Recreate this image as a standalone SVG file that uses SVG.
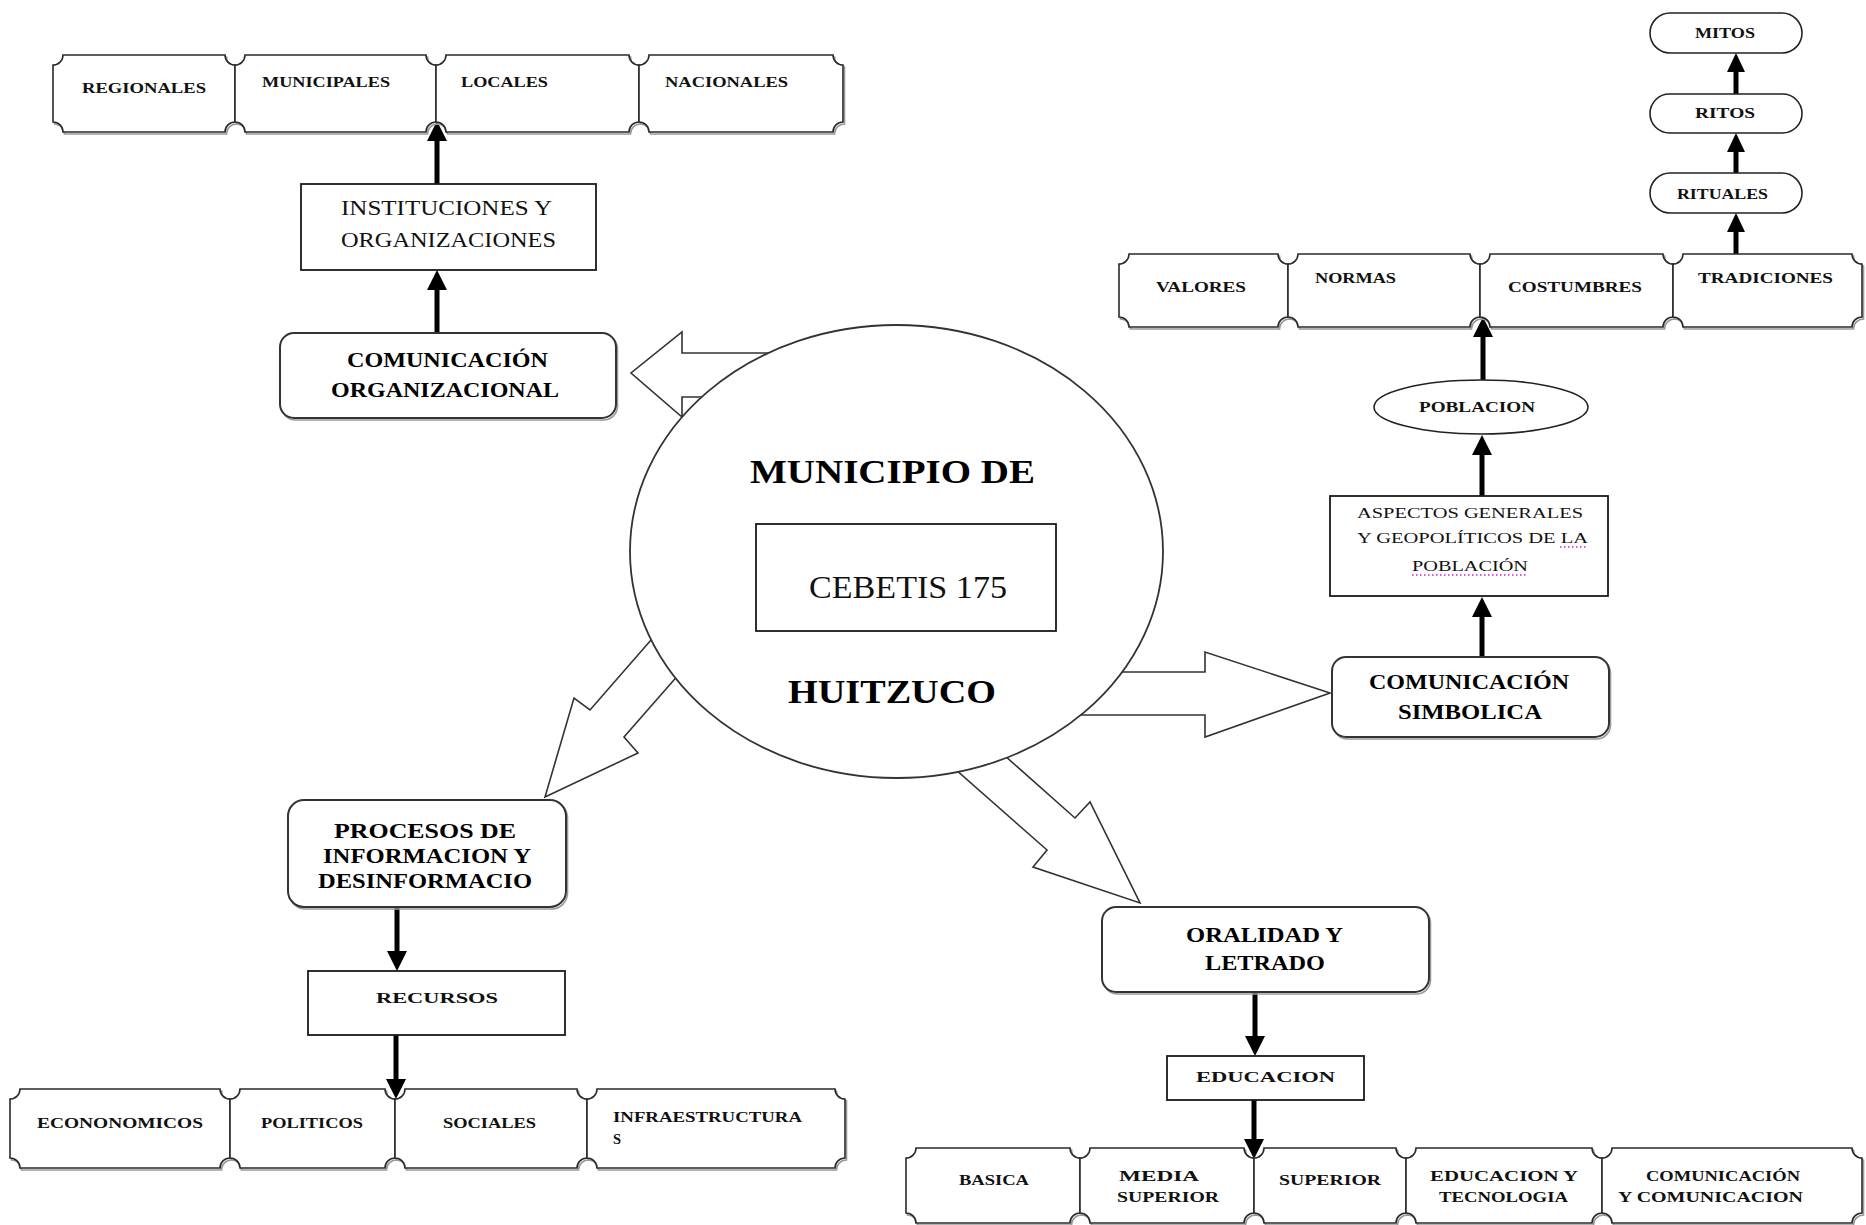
<svg xmlns="http://www.w3.org/2000/svg" width="1866" height="1225" viewBox="0 0 1866 1225">
<style>
.tk{fill:#fff;stroke:#2a2a2a;stroke-width:1.6}
.sh{fill:none;stroke:#9a9a9a;stroke-width:1.6}
.bx{fill:#fff;stroke:#1a1a1a;stroke-width:1.8}
.rb{fill:#fff;stroke:#333;stroke-width:2}
.sm{font-family:"Liberation Serif",serif;font-weight:bold;font-size:14.5px;fill:#111}
.md{font-family:"Liberation Serif",serif;font-size:15.5px;fill:#111}
.nm{font-family:"Liberation Serif",serif;font-size:21px;fill:#111}
.bd{font-family:"Liberation Serif",serif;font-weight:bold;font-size:21px;fill:#000}
.big{font-family:"Liberation Serif",serif;font-weight:bold;font-size:34px;fill:#000}
.ln{stroke:#000;stroke-width:5;fill:none}
.ah{fill:#000}
.blk{fill:#fff;stroke:#333;stroke-width:1.6;stroke-linejoin:miter}
.sp{stroke:#d020d0;stroke-width:1.5;stroke-dasharray:1.5 2.5}
</style>

<g id="connectors">
  <polygon class="blk" points="800,353 682,353 682,332 631,373 682,417 682,397 800,397"/>
  <polygon class="blk" points="1080,672 1205,672 1205,652 1330,693 1205,737 1205,715 1080,715"/>
  <polygon class="blk" points="685,601 590,710 574,698 545,797 638,753 624,737 709,640"/>
  <polygon class="blk" points="930,747 1047,850 1033,867 1140,903 1090,802 1075,818 978,732"/>
  <line class="ln" x1="437" y1="333" x2="437" y2="285"/><polygon class="ah" points="437,270 427,290 447,290"/>
  <line class="ln" x1="437" y1="184" x2="437" y2="138"/><polygon class="ah" points="437,121 427,141 447,141"/>
  <line class="ln" x1="1482" y1="657" x2="1482" y2="612"/><polygon class="ah" points="1482,597 1472,617 1492,617"/>
  <line class="ln" x1="1482" y1="496" x2="1482" y2="451"/><polygon class="ah" points="1482,435 1472,455 1492,455"/>
  <line class="ln" x1="1483" y1="380" x2="1483" y2="334"/><polygon class="ah" points="1483,317 1473,337 1493,337"/>
  <line class="ln" x1="1736" y1="254" x2="1736" y2="229"/><polygon class="ah" points="1736,213 1727,232 1745,232"/>
  <line class="ln" x1="1736" y1="173" x2="1736" y2="149"/><polygon class="ah" points="1736,133 1727,152 1745,152"/>
  <line class="ln" x1="1736" y1="94" x2="1736" y2="69"/><polygon class="ah" points="1736,53 1727,72 1745,72"/>
  <line class="ln" x1="397" y1="907" x2="397" y2="955"/><polygon class="ah" points="397,971 387,951 407,951"/>
  <line class="ln" x1="396" y1="1035" x2="396" y2="1082"/><polygon class="ah" points="396,1099 386,1079 406,1079"/>
  <line class="ln" x1="1255" y1="992" x2="1255" y2="1040"/><polygon class="ah" points="1255,1056 1245,1036 1265,1036"/>
  <line class="ln" x1="1254" y1="1100" x2="1254" y2="1142"/><polygon class="ah" points="1254,1159 1244,1139 1264,1139"/>
</g>

<g id="municipio">
  <ellipse cx="896.5" cy="551.5" rx="266.5" ry="226.5" fill="#fff" stroke="#333" stroke-width="1.8"/>
  <text class="big" x="750" y="483" textLength="285" lengthAdjust="spacingAndGlyphs">MUNICIPIO DE</text>
  <text class="big" x="788" y="703" textLength="208" lengthAdjust="spacingAndGlyphs">HUITZUCO</text>
</g>
<g id="cebetis">
  <rect class="bx" x="756" y="524" width="300" height="107"/>
  <text x="809" y="598" font-family="Liberation Serif, serif" font-size="32" fill="#111" textLength="198" lengthAdjust="spacingAndGlyphs">CEBETIS 175</text>
</g>

<g id="com-organizacional">
  <rect class="sh" x="281.5" y="335" width="336" height="85" rx="14"/>
  <rect class="rb" x="280" y="333" width="336" height="85" rx="14"/>
  <text class="bd" x="347" y="367" textLength="201" lengthAdjust="spacingAndGlyphs">COMUNICACIÓN</text>
  <text class="bd" x="331" y="397" textLength="228" lengthAdjust="spacingAndGlyphs">ORGANIZACIONAL</text>
</g>
<g id="instituciones">
  <rect class="bx" x="301" y="184" width="295" height="86"/>
  <text class="nm" x="341" y="215" textLength="211" lengthAdjust="spacingAndGlyphs">INSTITUCIONES Y</text>
  <text class="nm" x="341" y="247" textLength="215" lengthAdjust="spacingAndGlyphs">ORGANIZACIONES</text>
</g>
<g id="regionales">
  <path class="sh" transform="translate(1.5,2)" d="M63 55 H225 A10 10 0 0 0 235 65 V122 A10 10 0 0 0 225 132 H63 A10 10 0 0 0 53 122 V65 A10 10 0 0 0 63 55 Z"/>
  <path class="tk" d="M63 55 H225 A10 10 0 0 0 235 65 V122 A10 10 0 0 0 225 132 H63 A10 10 0 0 0 53 122 V65 A10 10 0 0 0 63 55 Z"/>
  <text class="sm" x="82" y="93" textLength="124" lengthAdjust="spacingAndGlyphs">REGIONALES</text>
</g>
<g id="municipales">
  <path class="sh" transform="translate(1.5,2)" d="M245 55 H426 A10 10 0 0 0 436 65 V122 A10 10 0 0 0 426 132 H245 A10 10 0 0 0 235 122 V65 A10 10 0 0 0 245 55 Z"/>
  <path class="tk" d="M245 55 H426 A10 10 0 0 0 436 65 V122 A10 10 0 0 0 426 132 H245 A10 10 0 0 0 235 122 V65 A10 10 0 0 0 245 55 Z"/>
  <text class="sm" x="262" y="87" textLength="128" lengthAdjust="spacingAndGlyphs">MUNICIPALES</text>
</g>
<g id="locales">
  <path class="sh" transform="translate(1.5,2)" d="M446 55 H629 A10 10 0 0 0 639 65 V122 A10 10 0 0 0 629 132 H446 A10 10 0 0 0 436 122 V65 A10 10 0 0 0 446 55 Z"/>
  <path class="tk" d="M446 55 H629 A10 10 0 0 0 639 65 V122 A10 10 0 0 0 629 132 H446 A10 10 0 0 0 436 122 V65 A10 10 0 0 0 446 55 Z"/>
  <text class="sm" x="461" y="87" textLength="87" lengthAdjust="spacingAndGlyphs">LOCALES</text>
</g>
<g id="nacionales">
  <path class="sh" transform="translate(1.5,2)" d="M649 55 H833 A10 10 0 0 0 843 65 V122 A10 10 0 0 0 833 132 H649 A10 10 0 0 0 639 122 V65 A10 10 0 0 0 649 55 Z"/>
  <path class="tk" d="M649 55 H833 A10 10 0 0 0 843 65 V122 A10 10 0 0 0 833 132 H649 A10 10 0 0 0 639 122 V65 A10 10 0 0 0 649 55 Z"/>
  <text class="sm" x="665" y="87" textLength="123" lengthAdjust="spacingAndGlyphs">NACIONALES</text>
</g>

<g id="com-simbolica">
  <rect class="sh" x="1333.5" y="659" width="277" height="80" rx="14"/>
  <rect class="rb" x="1332" y="657" width="277" height="80" rx="14"/>
  <text class="bd" x="1369" y="689" textLength="200" lengthAdjust="spacingAndGlyphs">COMUNICACIÓN</text>
  <text class="bd" x="1398" y="719" textLength="144" lengthAdjust="spacingAndGlyphs">SIMBOLICA</text>
</g>
<g id="aspectos">
  <rect class="bx" x="1330" y="496" width="278" height="100"/>
  <text class="md" x="1357" y="518" textLength="226" lengthAdjust="spacingAndGlyphs">ASPECTOS GENERALES</text>
  <text class="md" x="1357" y="543" textLength="231" lengthAdjust="spacingAndGlyphs">Y GEOPOLÍTICOS DE LA</text>
  <text class="md" x="1412" y="571" textLength="116" lengthAdjust="spacingAndGlyphs">POBLACIÓN</text>
  <line class="sp" x1="1560" y1="547" x2="1588" y2="547"/>
  <line class="sp" x1="1412" y1="575" x2="1528" y2="575"/>
</g>
<g id="poblacion">
  <ellipse cx="1481" cy="407" rx="107" ry="27" fill="#fff" stroke="#222" stroke-width="1.6"/>
  <text class="sm" x="1419" y="412" textLength="116" lengthAdjust="spacingAndGlyphs">POBLACION</text>
</g>
<g id="valores">
  <path class="sh" transform="translate(1.5,2)" d="M1129 254 H1278 A10 10 0 0 0 1288 264 V317 A10 10 0 0 0 1278 327 H1129 A10 10 0 0 0 1119 317 V264 A10 10 0 0 0 1129 254 Z"/>
  <path class="tk" d="M1129 254 H1278 A10 10 0 0 0 1288 264 V317 A10 10 0 0 0 1278 327 H1129 A10 10 0 0 0 1119 317 V264 A10 10 0 0 0 1129 254 Z"/>
  <text class="sm" x="1156" y="292" textLength="90" lengthAdjust="spacingAndGlyphs">VALORES</text>
</g>
<g id="normas">
  <path class="sh" transform="translate(1.5,2)" d="M1298 254 H1470 A10 10 0 0 0 1480 264 V317 A10 10 0 0 0 1470 327 H1298 A10 10 0 0 0 1288 317 V264 A10 10 0 0 0 1298 254 Z"/>
  <path class="tk" d="M1298 254 H1470 A10 10 0 0 0 1480 264 V317 A10 10 0 0 0 1470 327 H1298 A10 10 0 0 0 1288 317 V264 A10 10 0 0 0 1298 254 Z"/>
  <text class="sm" x="1315" y="283" textLength="81" lengthAdjust="spacingAndGlyphs">NORMAS</text>
</g>
<g id="costumbres">
  <path class="sh" transform="translate(1.5,2)" d="M1490 254 H1663 A10 10 0 0 0 1673 264 V317 A10 10 0 0 0 1663 327 H1490 A10 10 0 0 0 1480 317 V264 A10 10 0 0 0 1490 254 Z"/>
  <path class="tk" d="M1490 254 H1663 A10 10 0 0 0 1673 264 V317 A10 10 0 0 0 1663 327 H1490 A10 10 0 0 0 1480 317 V264 A10 10 0 0 0 1490 254 Z"/>
  <text class="sm" x="1508" y="292" textLength="134" lengthAdjust="spacingAndGlyphs">COSTUMBRES</text>
</g>
<g id="tradiciones">
  <path class="sh" transform="translate(1.5,2)" d="M1683 254 H1852 A10 10 0 0 0 1862 264 V317 A10 10 0 0 0 1852 327 H1683 A10 10 0 0 0 1673 317 V264 A10 10 0 0 0 1683 254 Z"/>
  <path class="tk" d="M1683 254 H1852 A10 10 0 0 0 1862 264 V317 A10 10 0 0 0 1852 327 H1683 A10 10 0 0 0 1673 317 V264 A10 10 0 0 0 1683 254 Z"/>
  <text class="sm" x="1698" y="283" textLength="135" lengthAdjust="spacingAndGlyphs">TRADICIONES</text>
</g>
<g id="rituales">
  <rect x="1650" y="173" width="152" height="40" rx="20" fill="#fff" stroke="#222" stroke-width="1.6"/>
  <text class="sm" x="1677" y="199" textLength="91" lengthAdjust="spacingAndGlyphs">RITUALES</text>
</g>
<g id="ritos">
  <rect x="1650" y="94" width="152" height="39" rx="19.5" fill="#fff" stroke="#222" stroke-width="1.6"/>
  <text class="sm" x="1695" y="118" textLength="60" lengthAdjust="spacingAndGlyphs">RITOS</text>
</g>
<g id="mitos">
  <rect x="1650" y="13" width="152" height="40" rx="20" fill="#fff" stroke="#222" stroke-width="1.6"/>
  <text class="sm" x="1695" y="38" textLength="60" lengthAdjust="spacingAndGlyphs">MITOS</text>
</g>

<g id="procesos">
  <rect class="sh" x="289.5" y="802" width="278" height="107" rx="16"/>
  <rect class="rb" x="288" y="800" width="278" height="107" rx="16"/>
  <text class="bd" x="334" y="838" textLength="182" lengthAdjust="spacingAndGlyphs">PROCESOS DE</text>
  <text class="bd" x="323" y="863" textLength="208" lengthAdjust="spacingAndGlyphs">INFORMACION Y</text>
  <text class="bd" x="318" y="888" textLength="214" lengthAdjust="spacingAndGlyphs">DESINFORMACIO</text>
</g>
<g id="recursos">
  <rect class="bx" x="308" y="971" width="257" height="64"/>
  <text class="sm" x="376" y="1003" textLength="122" lengthAdjust="spacingAndGlyphs">RECURSOS</text>
</g>
<g id="economicos">
  <path class="sh" transform="translate(1.5,2)" d="M20 1089 H220 A10 10 0 0 0 230 1099 V1158 A10 10 0 0 0 220 1168 H20 A10 10 0 0 0 10 1158 V1099 A10 10 0 0 0 20 1089 Z"/>
  <path class="tk" d="M20 1089 H220 A10 10 0 0 0 230 1099 V1158 A10 10 0 0 0 220 1168 H20 A10 10 0 0 0 10 1158 V1099 A10 10 0 0 0 20 1089 Z"/>
  <text class="sm" x="37" y="1128" textLength="166" lengthAdjust="spacingAndGlyphs">ECONONOMICOS</text>
</g>
<g id="politicos">
  <path class="sh" transform="translate(1.5,2)" d="M240 1089 H385 A10 10 0 0 0 395 1099 V1158 A10 10 0 0 0 385 1168 H240 A10 10 0 0 0 230 1158 V1099 A10 10 0 0 0 240 1089 Z"/>
  <path class="tk" d="M240 1089 H385 A10 10 0 0 0 395 1099 V1158 A10 10 0 0 0 385 1168 H240 A10 10 0 0 0 230 1158 V1099 A10 10 0 0 0 240 1089 Z"/>
  <text class="sm" x="261" y="1128" textLength="102" lengthAdjust="spacingAndGlyphs">POLITICOS</text>
</g>
<g id="sociales">
  <path class="sh" transform="translate(1.5,2)" d="M405 1089 H577 A10 10 0 0 0 587 1099 V1158 A10 10 0 0 0 577 1168 H405 A10 10 0 0 0 395 1158 V1099 A10 10 0 0 0 405 1089 Z"/>
  <path class="tk" d="M405 1089 H577 A10 10 0 0 0 587 1099 V1158 A10 10 0 0 0 577 1168 H405 A10 10 0 0 0 395 1158 V1099 A10 10 0 0 0 405 1089 Z"/>
  <text class="sm" x="443" y="1128" textLength="93" lengthAdjust="spacingAndGlyphs">SOCIALES</text>
</g>
<g id="infraestructuras">
  <path class="sh" transform="translate(1.5,2)" d="M597 1089 H835 A10 10 0 0 0 845 1099 V1158 A10 10 0 0 0 835 1168 H597 A10 10 0 0 0 587 1158 V1099 A10 10 0 0 0 597 1089 Z"/>
  <path class="tk" d="M597 1089 H835 A10 10 0 0 0 845 1099 V1158 A10 10 0 0 0 835 1168 H597 A10 10 0 0 0 587 1158 V1099 A10 10 0 0 0 597 1089 Z"/>
  <text class="sm" x="613" y="1122" textLength="189" lengthAdjust="spacingAndGlyphs">INFRAESTRUCTURA</text>
  <text class="sm" x="613" y="1144">S</text>
</g>

<g id="oralidad">
  <rect class="sh" x="1103.5" y="909" width="327" height="85" rx="14"/>
  <rect class="rb" x="1102" y="907" width="327" height="85" rx="14"/>
  <text class="bd" x="1186" y="942" textLength="157" lengthAdjust="spacingAndGlyphs">ORALIDAD Y</text>
  <text class="bd" x="1205" y="970" textLength="120" lengthAdjust="spacingAndGlyphs">LETRADO</text>
</g>
<g id="educacion">
  <rect class="bx" x="1167" y="1056" width="197" height="44"/>
  <text class="sm" x="1196" y="1082" textLength="139" lengthAdjust="spacingAndGlyphs">EDUCACION</text>
</g>
<g id="basica">
  <path class="sh" transform="translate(1.5,2)" d="M916 1148 H1070 A10 10 0 0 0 1080 1158 V1213 A10 10 0 0 0 1070 1223 H916 A10 10 0 0 0 906 1213 V1158 A10 10 0 0 0 916 1148 Z"/>
  <path class="tk" d="M916 1148 H1070 A10 10 0 0 0 1080 1158 V1213 A10 10 0 0 0 1070 1223 H916 A10 10 0 0 0 906 1213 V1158 A10 10 0 0 0 916 1148 Z"/>
  <text class="sm" x="959" y="1185" textLength="70" lengthAdjust="spacingAndGlyphs">BASICA</text>
</g>
<g id="media-superior">
  <path class="sh" transform="translate(1.5,2)" d="M1090 1148 H1244 A10 10 0 0 0 1254 1158 V1213 A10 10 0 0 0 1244 1223 H1090 A10 10 0 0 0 1080 1213 V1158 A10 10 0 0 0 1090 1148 Z"/>
  <path class="tk" d="M1090 1148 H1244 A10 10 0 0 0 1254 1158 V1213 A10 10 0 0 0 1244 1223 H1090 A10 10 0 0 0 1080 1213 V1158 A10 10 0 0 0 1090 1148 Z"/>
  <text class="sm" x="1119" y="1181" textLength="80" lengthAdjust="spacingAndGlyphs">MEDIA</text>
  <text class="sm" x="1117" y="1202" textLength="102" lengthAdjust="spacingAndGlyphs">SUPERIOR</text>
</g>
<g id="superior">
  <path class="sh" transform="translate(1.5,2)" d="M1264 1148 H1396 A10 10 0 0 0 1406 1158 V1213 A10 10 0 0 0 1396 1223 H1264 A10 10 0 0 0 1254 1213 V1158 A10 10 0 0 0 1264 1148 Z"/>
  <path class="tk" d="M1264 1148 H1396 A10 10 0 0 0 1406 1158 V1213 A10 10 0 0 0 1396 1223 H1264 A10 10 0 0 0 1254 1213 V1158 A10 10 0 0 0 1264 1148 Z"/>
  <text class="sm" x="1279" y="1185" textLength="102" lengthAdjust="spacingAndGlyphs">SUPERIOR</text>
</g>
<g id="educacion-tecnologia">
  <path class="sh" transform="translate(1.5,2)" d="M1416 1148 H1592 A10 10 0 0 0 1602 1158 V1213 A10 10 0 0 0 1592 1223 H1416 A10 10 0 0 0 1406 1213 V1158 A10 10 0 0 0 1416 1148 Z"/>
  <path class="tk" d="M1416 1148 H1592 A10 10 0 0 0 1602 1158 V1213 A10 10 0 0 0 1592 1223 H1416 A10 10 0 0 0 1406 1213 V1158 A10 10 0 0 0 1416 1148 Z"/>
  <text class="sm" x="1430" y="1181" textLength="148" lengthAdjust="spacingAndGlyphs">EDUCACION Y</text>
  <text class="sm" x="1439" y="1202" textLength="129" lengthAdjust="spacingAndGlyphs">TECNOLOGIA</text>
</g>
<g id="comunicacion-comunicacion">
  <path class="sh" transform="translate(1.5,2)" d="M1612 1148 H1852 A10 10 0 0 0 1862 1158 V1213 A10 10 0 0 0 1852 1223 H1612 A10 10 0 0 0 1602 1213 V1158 A10 10 0 0 0 1612 1148 Z"/>
  <path class="tk" d="M1612 1148 H1852 A10 10 0 0 0 1862 1158 V1213 A10 10 0 0 0 1852 1223 H1612 A10 10 0 0 0 1602 1213 V1158 A10 10 0 0 0 1612 1148 Z"/>
  <text class="sm" x="1646" y="1181" textLength="154" lengthAdjust="spacingAndGlyphs">COMUNICACIÓN</text>
  <text class="sm" x="1618" y="1202" textLength="185" lengthAdjust="spacingAndGlyphs">Y COMUNICACION</text>
</g>
</svg>
